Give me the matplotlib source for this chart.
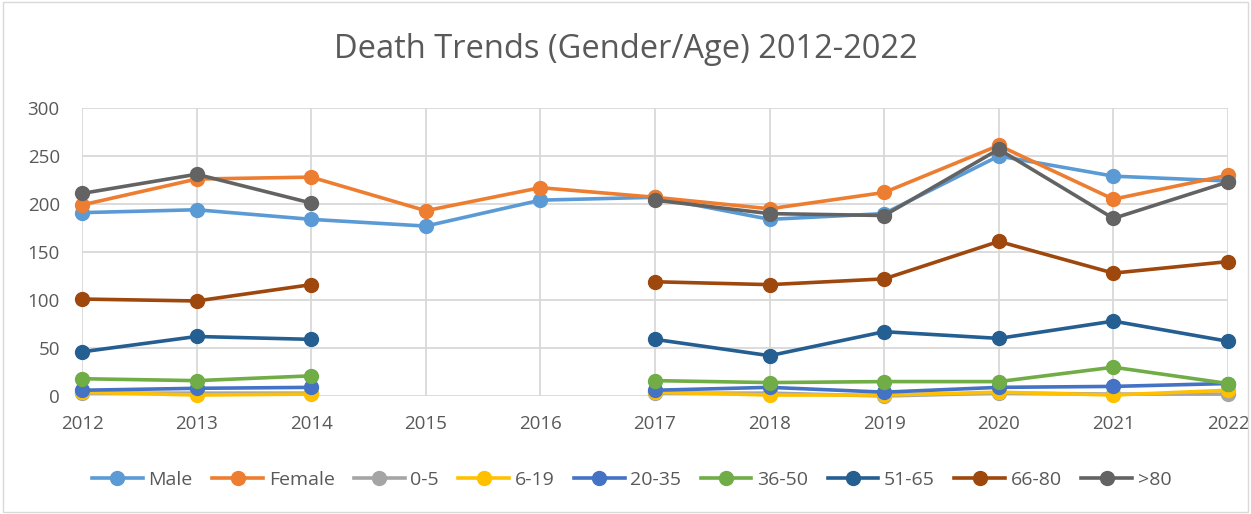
import numpy as np
import matplotlib
matplotlib.use("Agg")
import matplotlib.pyplot as plt

nan = np.nan
years = [2012, 2013, 2014, 2015, 2016, 2017, 2018, 2019, 2020, 2021, 2022]
male = [191, 194, 184, 177, 204, 207, 184, 190, 250, 229, 224]
female = [199, 226, 228, 193, 217, 207, 195, 212, 261, 205, 230]
age_0_5 = [3, 3, 3, nan, nan, 3, 3, 0, 3, 2, 2]
age_6_19 = [4, 1, 2, nan, nan, 4, 1, 1, 4, 1, 6]
age_20_35 = [6, 8, 9, nan, nan, 6, 9, 4, 9, 10, 13]
age_36_50 = [18, 16, 21, nan, nan, 16, 14, 15, 15, 30, 13]
age_51_65 = [46, 62, 59, nan, nan, 59, 42, 67, 60, 78, 57]
age_66_80 = [101, 99, 116, nan, nan, 119, 116, 122, 161, 128, 140]
age_80p = [211, 231, 201, nan, nan, 204, 190, 188, 257, 185, 223]

series = [
    ("Male", male, "#5B9BD5"),
    ("Female", female, "#ED7D31"),
    ("0-5", age_0_5, "#A5A5A5"),
    ("6-19", age_6_19, "#FFC000"),
    ("20-35", age_20_35, "#4472C4"),
    ("36-50", age_36_50, "#70AD47"),
    ("51-65", age_51_65, "#255E91"),
    ("66-80", age_66_80, "#9E480E"),
    (">80", age_80p, "#636363"),
]

plt.rcParams['font.family'] = ['Open Sans', 'DejaVu Sans']

fig = plt.figure(figsize=(12.51, 5.14), dpi=100)
ax = fig.add_axes([82/1251, 1-396/514, (1228-82)/1251, (396-108)/514])

for name, vals, col in series:
    ax.plot(years, vals, color=col, lw=2.6, marker='o', markersize=10,
            label=name, clip_on=False, zorder=3)

ax.set_xlim(2012, 2022)
ax.set_ylim(0, 300)
ax.set_xticks(years)
ax.set_yticks([0, 50, 100, 150, 200, 250, 300])
ax.grid(True, color='#d9d9d9', lw=1.3, zorder=0)
ax.set_axisbelow(True)
for s in ax.spines.values():
    s.set_visible(False)
ax.tick_params(length=0, labelsize=13.5, labelcolor='#595959')
ax.tick_params(axis='x', pad=14)
ax.tick_params(axis='y', pad=16)

fig.text(0.5, 1-50/514, "Death Trends (Gender/Age) 2012-2022", ha='center', va='center',
         fontsize=23.5, color='#595959')

fig.legend(loc='center', bbox_to_anchor=(0.505, 1-480/514), ncol=9, frameon=False,
           fontsize=14, labelcolor='#595959', handlelength=2.6, columnspacing=1.0,
           handletextpad=0.3)

border = plt.Rectangle((0.002, 0.003), 0.996, 0.994, transform=fig.transFigure,
                       fill=False, edgecolor='#d9d9d9', lw=1)
fig.add_artist(border)

fig.savefig("out.png", dpi=100, facecolor='white')
